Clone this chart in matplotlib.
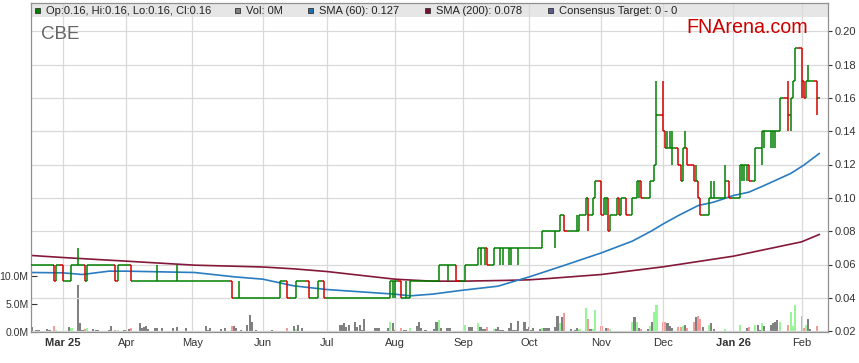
import numpy as np
import pandas as pd
import matplotlib
matplotlib.use("Agg")
import matplotlib.pyplot as plt
import matplotlib.dates as mdates
from matplotlib.collections import LineCollection
from matplotlib.patches import Rectangle

plt.rcParams["font.family"] = ["Liberation Sans", "DejaVu Sans"]

# ASX trading days shown on the chart (weekdays minus public holidays)
holidays = ["2025-04-18", "2025-04-21", "2025-04-25", "2025-06-09",
            "2025-12-25", "2025-12-26", "2026-01-01", "2026-01-26"]
dates = pd.bdate_range("2025-02-17", "2026-02-10", freq="C", holidays=holidays)

# daily prices in cents, one line per month (Feb 25 ... Feb 26)
open_c = [
    6, 6, 6, 6, 6, 6, 6, 6, 6, 5,
    6, 5, 5, 5, 5, 6, 6, 6, 6, 5, 6, 6, 6, 6, 6, 6, 6, 6, 6, 5, 6,
    6, 6, 6, 5, 5, 5, 5, 5, 5, 5, 5, 5, 5, 5, 5, 5, 5, 5, 5,
    5, 5, 5, 5, 5, 5, 5, 5, 5, 5, 5, 5, 5, 4, 4, 4, 4, 4, 4, 4, 4, 4,
    4, 4, 4, 4, 4, 4, 5, 5, 5, 4, 4, 5, 5, 5, 5, 4, 4, 4, 4, 5,
    4, 4, 4, 4, 4, 4, 4, 4, 4, 4, 4, 4, 4, 4, 4, 4, 4, 4, 4, 4, 4, 4, 5,
    5, 5, 4, 4, 4, 4, 5, 5, 5, 5, 5, 5, 5, 5, 5, 6, 6, 6, 6, 6, 6,
    5, 5, 6, 6, 6, 6, 7, 7, 7, 7, 6, 7, 7, 7, 7, 7, 7, 7, 7, 7, 7, 7,
    7, 7, 7, 7, 7, 8, 8, 8, 8, 8, 8, 9, 9, 8, 8, 8, 8, 8, 9, 10, 9, 9, 10,
    11, 9, 10, 10, 8, 9, 10, 9, 10, 10, 9, 10, 10, 11, 11, 10, 10, 11, 11, 12,
    15, 14, 13, 13, 13, 13, 12, 11, 13, 13, 12, 11, 11, 10, 9, 9, 10, 10, 10, 11, 11,
    10, 10, 12, 12, 12, 12, 11, 13, 13, 13, 14, 14, 14, 14, 14, 14, 16, 15, 16, 17,
    19, 17, 16, 17, 17, 17, 16,
]
high_c = [
    6, 6, 6, 6, 6, 6, 6, 6, 6, 6,
    6, 5, 5, 5, 6, 7, 6, 6, 6, 6, 6, 6, 6, 6, 6, 6, 6, 6, 6, 6, 6,
    6, 6, 6, 5, 5, 5, 5, 5, 5, 5, 6, 5, 5, 5, 5, 6, 5, 5, 5,
    5, 5, 5, 5, 5, 5, 5, 5, 5, 5, 5, 5, 5, 4, 4, 5, 4, 4, 4, 4, 4, 4,
    4, 4, 4, 4, 4, 5, 5, 5, 5, 4, 5, 5, 5, 5, 5, 4, 4, 4, 5, 5,
    4, 4, 4, 4, 4, 4, 4, 4, 4, 4, 4, 4, 4, 4, 4, 4, 4, 4, 4, 4, 4, 5, 5,
    5, 5, 4, 5, 4, 5, 5, 5, 5, 5, 5, 5, 5, 5, 6, 6, 6, 6, 6, 6, 6,
    5, 6, 6, 6, 6, 7, 7, 7, 7, 7, 7, 7, 7, 7, 7, 7, 7, 7, 7, 7, 7, 7,
    7, 7, 7, 7, 8, 8, 8, 8, 8, 8, 9, 9, 9, 8, 8, 8, 9, 9, 10, 10, 9, 10, 11,
    11, 10, 10, 10, 9, 10, 10, 10, 10, 10, 10, 10, 11, 11, 11, 10, 11, 11, 12, 17,
    17, 14, 14, 14, 14, 13, 12, 13, 14, 13, 12, 12, 11, 10, 9, 10, 11, 11, 12, 11, 11,
    10, 12, 12, 12, 12, 12, 13, 13, 13, 14, 14, 14, 14, 14, 14, 16, 17, 16, 17, 19,
    19, 17, 17, 18, 17, 17, 16,
]
low_c = [
    6, 6, 6, 6, 6, 6, 6, 6, 5, 5,
    5, 5, 5, 5, 5, 6, 6, 6, 5, 5, 6, 6, 6, 6, 6, 6, 6, 6, 5, 5, 6,
    6, 6, 5, 5, 5, 5, 5, 5, 5, 5, 5, 5, 5, 5, 5, 5, 5, 5, 5,
    5, 5, 5, 5, 5, 5, 5, 5, 5, 5, 5, 5, 4, 4, 4, 4, 4, 4, 4, 4, 4, 4,
    4, 4, 4, 4, 4, 4, 5, 5, 4, 4, 4, 5, 5, 5, 4, 4, 4, 4, 4, 4,
    4, 4, 4, 4, 4, 4, 4, 4, 4, 4, 4, 4, 4, 4, 4, 4, 4, 4, 4, 4, 4, 4, 4,
    4, 4, 4, 4, 4, 4, 5, 5, 5, 5, 5, 5, 5, 5, 5, 6, 5, 6, 6, 6, 5,
    5, 5, 6, 6, 6, 6, 6, 7, 6, 6, 6, 7, 7, 6, 6, 6, 6, 7, 7, 6, 7, 7,
    7, 7, 7, 7, 7, 8, 8, 8, 7, 8, 8, 9, 8, 8, 8, 8, 8, 8, 9, 8, 9, 9, 10,
    9, 9, 9, 8, 8, 9, 9, 9, 10, 9, 9, 10, 10, 10, 10, 10, 10, 11, 11, 12,
    14, 13, 13, 13, 12, 12, 11, 11, 13, 12, 11, 11, 10, 9, 9, 9, 10, 10, 10, 11, 10,
    10, 10, 11, 11, 11, 11, 11, 13, 13, 12, 13, 13, 13, 13, 14, 14, 14, 14, 16, 17,
    16, 16, 16, 17, 17, 15, 16,
]
close_c = [
    6, 6, 6, 6, 6, 6, 6, 6, 5, 6,
    5, 5, 5, 5, 6, 6, 6, 6, 5, 6, 6, 6, 6, 6, 6, 6, 6, 6, 5, 6, 6,
    6, 6, 5, 5, 5, 5, 5, 5, 5, 5, 5, 5, 5, 5, 5, 5, 5, 5, 5,
    5, 5, 5, 5, 5, 5, 5, 5, 5, 5, 5, 5, 4, 4, 4, 4, 4, 4, 4, 4, 4, 4,
    4, 4, 4, 4, 4, 5, 5, 5, 4, 4, 5, 5, 5, 5, 4, 4, 4, 4, 5, 4,
    4, 4, 4, 4, 4, 4, 4, 4, 4, 4, 4, 4, 4, 4, 4, 4, 4, 4, 4, 4, 4, 5, 5,
    5, 4, 4, 4, 4, 5, 5, 5, 5, 5, 5, 5, 5, 5, 6, 6, 6, 6, 6, 6, 5,
    5, 6, 6, 6, 6, 7, 7, 7, 7, 6, 7, 7, 7, 7, 7, 7, 7, 7, 7, 7, 7, 7,
    7, 7, 7, 7, 8, 8, 8, 8, 8, 8, 9, 9, 8, 8, 8, 8, 8, 9, 10, 9, 9, 10, 11,
    9, 10, 10, 8, 9, 10, 9, 10, 10, 9, 10, 10, 11, 11, 10, 10, 11, 11, 12, 15,
    14, 13, 13, 13, 13, 12, 11, 13, 13, 12, 11, 11, 10, 9, 9, 10, 10, 10, 11, 11, 10,
    10, 12, 12, 12, 12, 11, 13, 13, 13, 14, 14, 14, 14, 14, 14, 16, 15, 16, 17, 19,
    17, 16, 17, 17, 17, 16, 16,
]
# daily volume in millions of shares
volume_m = [
    0.9, 0.2, 0.3, 0.3, 0.2, 0.5, 0.3, 0.2, 1.1, 0.3,
    0.2, 0.2, 0.1, 0.9, 0.6, 8.4, 1.5, 0.3, 0.5, 0.6, 0.5, 0.3, 0.4, 0.1, 0.2, 0.3, 1.1, 0.2, 0.3, 0.3, 0.3,
    0.4, 0.5, 0.7, 0.2, 1.5, 0.6, 0.9, 1.1, 0.5, 0.7, 0.7, 0.2, 0.6, 0.7, 0.2, 0.9, 0.6, 0.2, 0.2,
    0.2, 0.2, 0.2, 0.2, 1.1, 0.3, 0.7, 0.2, 0.2, 0.5, 0.2, 0.7, 1.1, 1.1, 0.7, 0.2, 0.3, 1.2, 3.0, 1.8, 0.2, 0.3,
    0.2, 0.2, 0.1, 0.1, 0.3, 0.2, 0.1, 0.2, 0.7, 1.1, 0.5, 1.2, 0.2, 0.7, 0.2, 0.1, 0.2, 0.1, 0.2, 0.1,
    0.1, 0.1, 0.1, 0.2, 1.2, 1.2, 1.5, 0.8, 1.3, 1.7, 0.9, 1.2, 0.4, 2.3, 0.2, 0.1, 0.6, 0.6, 0.7, 0.2, 0.7, 1.8, 1.5,
    0.3, 0.7, 0.3, 0.3, 0.2, 0.6, 1.1, 1.8, 0.6, 0.2, 0.3, 0.2, 0.5, 1.8, 2.1, 0.6, 0.6, 0.7, 0.2, 0.2, 0.2,
    0.2, 1.2, 0.2, 0.9, 0.9, 1.5, 0.9, 0.5, 0.5, 0.9, 0.5, 0.5, 0.9, 0.3, 0.3, 0.6, 1.5, 0.3, 0.3, 2.0, 1.7, 0.5,
    0.9, 0.3, 0.7, 0.5, 0.6, 0.6, 0.6, 0.7, 0.9, 2.9, 1.5, 2.7, 3.3, 0.5, 0.2, 0.3, 0.6, 0.5, 4.3, 2.3, 0.5, 0.5, 3.9,
    1.1, 0.2, 0.7, 0.7, 0.5, 0.2, 0.2, 0.2, 0.2, 0.2, 1.7, 2.7, 1.8, 0.6, 0.5, 0.5, 1.1, 1.7, 3.6, 4.8,
    1.7, 1.7, 1.5, 1.1, 0.6, 0.9, 0.9, 1.1, 1.2, 0.7, 1.7, 2.7, 2.9, 2.3, 0.9, 1.2, 1.5, 0.5, 0.5, 0.2, 0.2,
    0.2, 1.3, 0.2, 0.2, 0.7, 0.9, 1.2, 1.3, 0.3, 1.5, 1.1, 1.3, 1.5, 1.8, 2.1, 1.8, 1.3, 3.5, 1.0, 4.8,
    2.9, 0.6, 1.3, 2.3, 0.5, 1.1, 0.0,
]

# moving averages
sma60_dates = ["2025-02-17", "2025-03-03", "2025-03-12", "2025-03-24", "2025-04-01", "2025-05-02",
               "2025-05-20", "2025-06-02", "2025-06-16", "2025-07-01", "2025-08-01", "2025-08-08",
               "2025-08-18", "2025-09-01", "2025-09-17", "2025-09-25", "2025-10-01", "2025-10-16",
               "2025-11-03", "2025-11-17", "2025-11-26", "2025-12-01", "2025-12-08", "2025-12-17",
               "2025-12-24", "2026-01-02", "2026-01-09", "2026-01-16", "2026-01-28", "2026-02-03",
               "2026-02-10"]
sma60 = [0.0552, 0.0550, 0.0540, 0.0560, 0.0560, 0.0552, 0.0526, 0.0512, 0.0472, 0.0450,
         0.0422, 0.0412, 0.0422, 0.0446, 0.0470, 0.0502, 0.0525, 0.0590, 0.0670, 0.0740,
         0.0803, 0.0843, 0.0894, 0.0954, 0.0974, 0.1014, 0.1034, 0.1074, 0.1146, 0.1196, 0.1266]
sma200_dates = ["2025-02-17", "2025-03-03", "2025-04-01", "2025-05-02", "2025-06-02", "2025-06-16",
                "2025-07-01", "2025-08-01", "2025-08-18", "2025-09-01", "2025-09-18", "2025-10-01",
                "2025-10-10", "2025-11-03", "2025-12-01", "2026-01-02", "2026-02-02", "2026-02-10"]
sma200 = [0.0654, 0.0642, 0.0620, 0.0596, 0.0585, 0.0574, 0.0558, 0.0512, 0.0500, 0.0500,
          0.0504, 0.0508, 0.0516, 0.0540, 0.0586, 0.0650, 0.0736, 0.0780]

assert len(dates) == len(open_c) == len(high_c) == len(low_c) == len(close_c) == len(volume_m)

o = np.array(open_c) / 100
h = np.array(high_c) / 100
l = np.array(low_c) / 100
c = np.array(close_c) / 100
vol = np.array(volume_m)
x = mdates.date2num(dates)

# figure layout in pixels
W, H = 859, 363
L, R, B, T = 30.5, 828, 332, 3
fig = plt.figure(figsize=(W / 100, H / 100), dpi=100)
rect = [L / W, 1 - B / H, (R - L) / W, (B - T) / H]
ax_vol = fig.add_axes(rect)
ax = fig.add_axes(rect, sharex=ax_vol)
ax.patch.set_visible(False)

# grey legend band at the top of the plot
band = 14 / (B - T)
ax_vol.add_patch(Rectangle((0, 1 - band), 1, band, transform=ax_vol.transAxes,
                           facecolor="#e6e6e6", edgecolor="none", zorder=0))

# volume bars, coloured by change in close
prev = np.concatenate([[c[0]], c[:-1]])
vcol = np.where(c > prev, "#98f598", np.where(c < prev, "#f79a9a", "#808080"))
ax_vol.bar(x, vol, width=0.95, color=vcol, zorder=2)
ax_vol.set_ylim(-0.05, 59.3)
ax_vol.set_yticks([0, 5, 10])
ax_vol.set_yticklabels(["0.0M", "5.0M", "10.0M"])
ax_vol.tick_params(axis="y", direction="in", length=4, pad=1.5, labelsize=7.6,
                   colors="#333333", width=0.8)
ax_vol.tick_params(axis="x", bottom=False, labelbottom=False)
for s in ax_vol.spines.values():
    s.set_visible(False)

# OHLC bars: high-low line, open tick to the left, close tick to the right
gap_l = np.diff(x, prepend=x[0] - 1) / 2
gap_r = np.diff(x, append=x[-1] + 1) / 2
segs, cols = [], []
for i in range(len(x)):
    col = "#d40000" if c[i] < o[i] else "#008000"
    segs += [[(x[i], l[i]), (x[i], h[i])],
             [(x[i] - gap_l[i], o[i]), (x[i], o[i])],
             [(x[i], c[i]), (x[i] + gap_r[i], c[i])]]
    cols += [col] * 3
ax.add_collection(LineCollection(segs, colors=cols, linewidths=1.1, zorder=3))

ax.plot(mdates.date2num(pd.to_datetime(sma200_dates)), sma200, color="#841838", lw=1.2, zorder=2)
ax.plot(mdates.date2num(pd.to_datetime(sma60_dates)), sma60, color="#2a7cc0", lw=1.2, zorder=2)

ax.set_xlim(mdates.date2num(pd.Timestamp("2025-02-16 09:00")), mdates.date2num(pd.Timestamp("2026-02-14")))
ax.set_ylim(0.0195, 0.2169)
ax.yaxis.tick_right()
ax.set_yticks(np.arange(0.02, 0.201, 0.02))
ax.set_yticklabels([f"{v:.2f}" for v in np.arange(0.02, 0.201, 0.02)])
ax.tick_params(axis="y", direction="out", length=3, pad=2, labelsize=8, colors="#333333", width=0.8)

# month ticks at first trading day of each month
month = dates.month
first = [i for i in range(1, len(dates)) if month[i] != month[i - 1]]
tick_x = x[first]
labels = []
for i in first:
    d = dates[i]
    lab = d.strftime("%b")
    if d.month == 1 or i == first[0]:
        lab += d.strftime(" %y")
    labels.append(lab)
ax.set_xticks(tick_x)
ax.set_xticklabels(labels)
ax.tick_params(axis="x", length=0, pad=4, labelsize=8, colors="#333333")
for t in ax.get_xticklabels():
    if " " in t.get_text():
        t.set_fontweight("bold")

ax.grid(True, color="#d9d9d9", lw=0.9, zorder=1)
for s in ax.spines.values():
    s.set_color("#909090")
    s.set_linewidth(0.9)

# header legend
items = [(35, "#008000", "Op:0.16, Hi:0.16, Lo:0.16, Cl:0.16"),
         (235, "#808080", "Vol: 0M"),
         (308, "#1f6fb0", "SMA (60): 0.127"),
         (425, "#7a1030", "SMA (200): 0.078"),
         (548, "#5c5c8c", "Consensus Target: 0 - 0")]
for px, col, txt in items:
    fig.add_artist(Rectangle((px / W, 1 - 13.3 / H), 5.2 / W, 5.2 / H, transform=fig.transFigure,
                             facecolor=col, edgecolor="#333333", lw=0.6))
    fig.text((px + 11) / W, 1 - 10.5 / H, txt, fontsize=8, color="#222222", va="center", ha="left")

fig.text(41.5 / W, 1 - 39.3 / H, "CBE", fontsize=13.5, color="#666666", va="baseline")
fig.text(686.5 / W, 1 - 33.3 / H, "FNArena.com", fontsize=14.2, color="#cc0000", va="baseline")

fig.savefig("out.png", dpi=100)
